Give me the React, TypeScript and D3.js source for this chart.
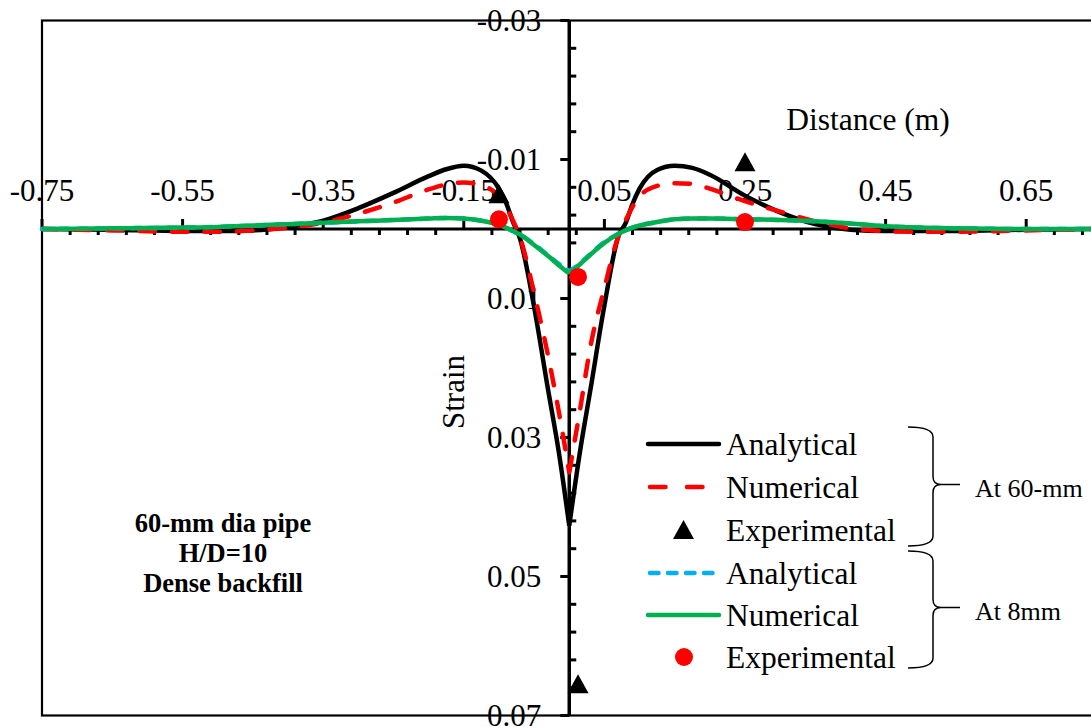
import React from "react";
import * as d3 from "d3";

// ---------- data ----------
const distance = [-0.75,-0.65,-0.55,-0.5,-0.45,-0.4,-0.35,-0.3,-0.25,-0.2,-0.175,-0.15,-0.125,-0.1,-0.09,-0.08,-0.07,-0.05,-0.03,-0.015,0,0.015,0.03,0.05,0.07,0.08,0.09,0.1,0.125,0.15,0.175,0.2,0.25,0.3,0.35,0.4,0.45,0.5,0.55,0.65,0.75];

const analytical60 = [0,0.0001,0.0003,0.0003,0.0002,-0.0003,-0.0012,-0.003,-0.0052,-0.0076,-0.0086,-0.0091,-0.0084,-0.0058,-0.0038,-0.001,0.0014,0.0112,0.0232,0.032,0.0427,0.0322,0.0232,0.011,0.001,-0.0008,-0.0036,-0.0058,-0.0085,-0.0091,-0.0088,-0.0078,-0.0048,-0.0024,-0.0007,0.0001,0.0003,0.0003,0.0003,0.0001,0];

const numerical60 = [0,0.0002,0.0004,0.0004,0.0002,-0.0002,-0.0009,-0.0022,-0.0038,-0.0057,-0.0064,-0.0067,-0.0063,-0.0047,-0.0032,-0.0012,0.0012,0.0092,0.0183,0.0262,0.035,0.0262,0.017,0.0085,0.001,-0.0012,-0.0032,-0.0047,-0.0062,-0.0066,-0.0065,-0.0058,-0.004,-0.0025,-0.0011,-0.0001,0.0003,0.0004,0.0004,0.0002,0];

const analytical8 = [0,-0.0001,-0.0002,-0.0003,-0.0005,-0.0007,-0.0009,-0.0011,-0.0013,-0.0015,-0.0016,-0.0015,-0.0012,-0.0006,-0.0002,0.0003,0.0008,0.0022,0.0038,0.005,0.0061,0.005,0.0036,0.0019,0.0007,0.0002,-0.0002,-0.0005,-0.001,-0.0014,-0.0015,-0.0015,-0.0014,-0.0013,-0.0011,-0.0008,-0.0004,-0.0002,-0.0001,0,0];

const numerical8 = [0,-0.0001,-0.0002,-0.0003,-0.0005,-0.0007,-0.0009,-0.0011,-0.0013,-0.0015,-0.0016,-0.0015,-0.0012,-0.0006,-0.0002,0.0003,0.0008,0.0023,0.0039,0.0052,0.0064,0.0051,0.0037,0.002,0.0007,0.0002,-0.0002,-0.0005,-0.001,-0.0014,-0.0015,-0.0015,-0.0014,-0.0013,-0.0011,-0.0008,-0.0004,-0.0002,-0.0001,0,0];

const expX = [-0.1, 0.0125, 0.25];
const experimental60 = [-0.005, 0.0655, -0.0096];
const experimental8 = [-0.0014, 0.0069, -0.001];

const xTickLabels = [-0.75,-0.55,-0.35,-0.15,0.05,0.25,0.45,0.65];
const yTickLabels = [-0.03,-0.01,0.01,0.03,0.05,0.07];

const legendLabels = ["Analytical","Numerical","Experimental","Analytical","Numerical","Experimental"];
const groupLabels = ["At 60-mm","At 8mm"];
const noteLines = ["60-mm dia pipe","H/D=10","Dense backfill"];

// ---------- layout ----------
const W = 1091, H = 727;
const FONT = "'Liberation Serif', 'Times New Roman', Times, serif";

export default function App() {
  const x = d3.scaleLinear().domain([-0.75, 0.75]).range([42, 1096.5]);
  const y = d3.scaleLinear().domain([-0.03, 0.07]).range([20.5, 715.5]);
  const x0 = x(0), y0 = y(0);

  const pts = (ys: number[]) => distance.map((d, i) => [d, ys[i]] as [number, number]);
  const line = d3.line<[number, number]>().x(d => x(d[0])).y(d => y(d[1])).curve(d3.curveMonotoneX);
  // split at the cusp x=0 so the tip stays sharp
  const path = (ys: number[]) => {
    const p = pts(ys);
    return (line(p.filter(d => d[0] <= 0)) || "") + (line(p.filter(d => d[0] >= 0)) || "");
  };

  const minorX = d3.range(-0.75, 0.76, 0.04).filter(v => !xTickLabels.some(t => Math.abs(t - v) < 1e-6));
  const minorY = d3.range(-0.03, 0.0701, 0.004).filter(v => !yTickLabels.some(t => Math.abs(t - v) < 1e-6));
  const fmt = (v: number) => v.toFixed(2);

  const tri = (cx: number, cy: number) => `M${cx},${cy - 10}L${cx + 10.5},${cy + 9}L${cx - 10.5},${cy + 9}Z`;

  const legendY = [444, 487, 530, 573, 615, 657];

  const brace = (x1: number, top: number, bot: number, xs: number, tip: number) => {
    const mid = (top + bot) / 2 - 2;
    return `M${x1},${top} Q${xs},${top} ${xs},${top + 10} L${xs},${mid - 8} Q${xs},${mid} ${xs + 8},${mid} L${tip},${mid} M${xs + 8},${mid} Q${xs},${mid} ${xs},${mid + 8} L${xs},${bot - 10} Q${xs},${bot} ${x1},${bot}`;
  };

  return (
    <svg width={W} height={H} style={{ position: "absolute", left: 0, top: 0, background: "#fff", fontFamily: FONT }}>
      <rect x={0} y={0} width={W} height={H} fill="#fff" />
      {/* tick labels */}
      {xTickLabels.map(t => (
        <text key={"xl" + t} x={x(t)} y={y0 - 28} fontSize={31} textAnchor="middle" fill="#000">{fmt(t)}</text>
      ))}
      {yTickLabels.map(t => (
        <text key={"yl" + t} x={x0 - 28} y={y(t) + 10.5} fontSize={31} textAnchor="end" fill="#000">{fmt(t)}</text>
      ))}
      {/* plot border */}
      <rect x={x(-0.75)} y={y(-0.03)} width={x(0.75) - x(-0.75)} height={y(0.07) - y(-0.03)} fill="none" stroke="#000" strokeWidth={2.2} />
      {/* axes */}
      <line x1={x(-0.75)} x2={x(0.75)} y1={y0} y2={y0} stroke="#000" strokeWidth={3} />
      <line x1={x0} x2={x0} y1={y(-0.03)} y2={y(0.07)} stroke="#000" strokeWidth={3.5} />
      {xTickLabels.map(t => (
        <line key={"xt" + t} x1={x(t)} x2={x(t)} y1={y0} y2={y0 - 10} stroke="#000" strokeWidth={3} />
      ))}
      {minorX.map(t => (
        <line key={"xm" + t} x1={x(t)} x2={x(t)} y1={y0} y2={y0 + 6} stroke="#000" strokeWidth={3} />
      ))}
      {yTickLabels.map(t => (
        <line key={"yt" + t} x1={x0} x2={x0 - 9} y1={y(t)} y2={y(t)} stroke="#000" strokeWidth={3} />
      ))}
      {minorY.map(t => (
        <line key={"ym" + t} x1={x0} x2={x0 + 7} y1={y(t)} y2={y(t)} stroke="#000" strokeWidth={3} />
      ))}
      {/* axis titles */}
      <text x={868} y={130} fontSize={31.5} textAnchor="middle">Distance (m)</text>
      <text transform={`translate(464,392) rotate(-90)`} fontSize={31} textAnchor="middle">Strain</text>

      {/* series */}
      <path d={path(analytical60)} fill="none" stroke="#000" strokeWidth={4.5} />
      <path d={path(numerical60)} fill="none" stroke="#FF0000" strokeWidth={4.5} strokeDasharray="15.5,17" strokeLinecap="round" />
      {expX.map((v, i) => <path key={"t" + i} d={tri(x(v), y(experimental60[i]))} fill="#000" />)}
      <path d={path(analytical8)} fill="none" stroke="#00B0F0" strokeWidth={4.5} strokeDasharray="8.5,9.5" strokeLinecap="round" />
      <path d={path(numerical8)} fill="none" stroke="#00B050" strokeWidth={4.5} />
      {expX.map((v, i) => <circle key={"c" + i} cx={x(v)} cy={y(experimental8[i])} r={9} fill="#FF0000" />)}

      {/* legend */}
      <line x1={648} x2={719} y1={legendY[0]} y2={legendY[0]} stroke="#000" strokeWidth={4.5} strokeLinecap="round" />
      <line x1={650} x2={719} y1={legendY[1]} y2={legendY[1]} stroke="#FF0000" strokeWidth={4.5} strokeDasharray="15.5,21.5" strokeLinecap="round" />
      <path d={tri(683.5, legendY[2])} fill="#000" />
      <line x1={650} x2={719} y1={legendY[3]} y2={legendY[3]} stroke="#00B0F0" strokeWidth={4.5} strokeDasharray="8.5,9.5" strokeLinecap="round" />
      <line x1={648} x2={719} y1={legendY[4]} y2={legendY[4]} stroke="#00B050" strokeWidth={4.5} strokeLinecap="round" />
      <circle cx={684} cy={legendY[5]} r={9} fill="#FF0000" />
      {legendLabels.map((l, i) => (
        <text key={"lg" + i} x={726} y={legendY[i] + 11} fontSize={31.5}>{l}</text>
      ))}

      {/* braces */}
      <path d={brace(908, 427, 546, 933, 960)} fill="none" stroke="#000" strokeWidth={1.5} />
      <path d={brace(908, 551, 668, 933, 960)} fill="none" stroke="#000" strokeWidth={1.5} />
      <text x={975} y={497} fontSize={26}>{groupLabels[0]}</text>
      <text x={975} y={620} fontSize={26}>{groupLabels[1]}</text>

      {/* note */}
      <g fontSize={26.5} fontWeight="bold" textAnchor="middle">
        {noteLines.map((l, i) => (
          <text key={"n" + i} x={223} y={532 + i * 30}>{l}</text>
        ))}
      </g>
    </svg>
  );
}
